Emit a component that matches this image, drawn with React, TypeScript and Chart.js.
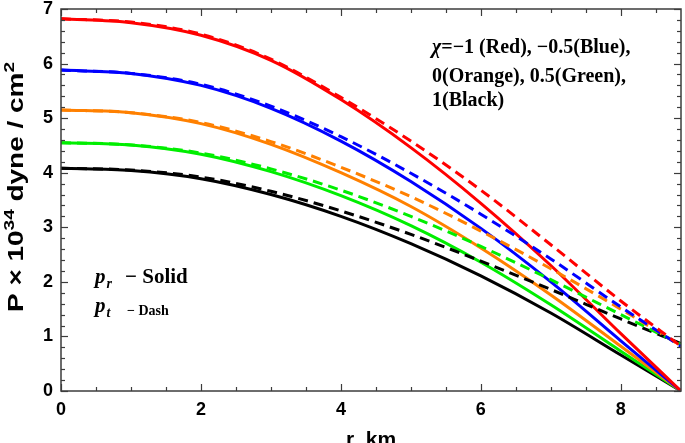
import React, { useEffect, useRef } from "react";
import { Chart, registerables } from "chart.js";

Chart.register(...registerables);

// radial coordinate r (km)
const rKm = [0, 1, 2, 3, 4, 5, 6, 7, 8, 8.86];

// radial pressure p_r (solid), units 10^34 dyne/cm^2
const prRed = [6.82, 6.75, 6.52, 6.06, 5.34, 4.46, 3.44, 2.3, 1.05, 0];
const prBlue = [5.88, 5.82, 5.6, 5.18, 4.58, 3.84, 2.98, 2.0, 0.92, 0];
const prOrange = [5.15, 5.1, 4.9, 4.52, 4.0, 3.38, 2.62, 1.76, 0.82, 0];
const prGreen = [4.55, 4.51, 4.34, 4.02, 3.58, 3.03, 2.36, 1.58, 0.73, 0];
const prBlack = [4.08, 4.04, 3.89, 3.6, 3.2, 2.7, 2.11, 1.43, 0.66, 0];

// tangential pressure p_t (dashed)
const ptRed = [6.82, 6.76, 6.54, 6.08, 5.38, 4.58, 3.68, 2.68, 1.65, 0.82];
const ptBlue = [5.88, 5.82, 5.62, 5.22, 4.66, 3.99, 3.24, 2.42, 1.54, 0.82];
const ptOrange = [5.15, 5.1, 4.92, 4.57, 4.1, 3.56, 2.93, 2.24, 1.5, 0.83];
const ptGreen = [4.55, 4.51, 4.36, 4.07, 3.68, 3.2, 2.65, 2.04, 1.4, 0.85];
const ptBlack = [4.08, 4.05, 3.92, 3.66, 3.3, 2.87, 2.38, 1.86, 1.32, 0.87];

const xTickValues = [0, 2, 4, 6, 8];
const yTickValues = [0, 1, 2, 3, 4, 5, 6, 7];

const seriesColors = ["#ff0000", "#0000ff", "#ff8000", "#00ee00", "#000000"];
const prSeries = [prRed, prBlue, prOrange, prGreen, prBlack];
const ptSeries = [ptRed, ptBlue, ptOrange, ptGreen, ptBlack];
const seriesNames = ["χ=−1", "χ=−0.5", "χ=0", "χ=0.5", "χ=1"];

const legendLines = ["=−1 (Red), −0.5(Blue),", "0(Orange), 0.5(Green),", "1(Black)"];

const SANS = '"Liberation Sans", Arial, sans-serif';
const SERIF = '"Liberation Serif", "Times New Roman", serif';

const zeroPad = (s: any) => {
  s.paddingTop = 0;
  s.paddingBottom = 0;
  s.paddingLeft = 0;
  s.paddingRight = 0;
};

const decorPlugin = {
  id: "decor",
  afterDatasetsDraw(chart: any) {
    const { ctx, chartArea: a, scales } = chart;
    const x = scales.x;
    const y = scales.y;
    ctx.save();
    // frame
    ctx.strokeStyle = "#3c3c3c";
    ctx.lineWidth = 1.5;
    ctx.strokeRect(a.left, a.top, a.right - a.left, a.bottom - a.top);
    ctx.lineWidth = 1.2;
    const seg = (x1: number, y1: number, x2: number, y2: number) => {
      ctx.beginPath();
      ctx.moveTo(x1, y1);
      ctx.lineTo(x2, y2);
      ctx.stroke();
    };
    // x ticks (major every 2, minor every 0.5)
    for (let i = 0; i * 0.5 <= x.max + 1e-9; i++) {
      const v = i * 0.5;
      const major = i % 4 === 0;
      const len = major ? 7 : 4;
      const px = Math.round(x.getPixelForValue(v)) + 0.5;
      seg(px, a.bottom, px, a.bottom - len);
      seg(px, a.top, px, a.top + len);
    }
    // y ticks (major every 1, minor every 0.2)
    for (let i = 0; i * 0.2 <= y.max + 1e-9; i++) {
      const v = i * 0.2;
      const major = i % 5 === 0;
      const len = major ? 7 : 4;
      const py = Math.round(y.getPixelForValue(v)) + 0.5;
      seg(a.left, py, a.left + len, py);
      seg(a.right, py, a.right - len, py);
    }

    ctx.fillStyle = "#000";
    ctx.textBaseline = "alphabetic";

    // y axis title with superscripts
    const parts = [
      { t: "P × 10", f: `bold 22px ${SANS}`, dy: 0 },
      { t: "34", f: `bold 15px ${SANS}`, dy: -9 },
      { t: " dyne / cm", f: `bold 22px ${SANS}`, dy: 0 },
      { t: "2", f: `bold 15px ${SANS}`, dy: -9 },
    ];
    let total = 0;
    const widths = parts.map((p) => {
      ctx.font = p.f;
      const w = ctx.measureText(p.t).width;
      total += w;
      return w;
    });
    ctx.save();
    ctx.translate(23, 187);
    ctx.rotate(-Math.PI / 2);
    ctx.scale(250 / total, 1);
    ctx.textAlign = "left";
    let cx = -total / 2;
    parts.forEach((p, i) => {
      ctx.font = p.f;
      ctx.fillText(p.t, cx, p.dy);
      cx += widths[i];
    });
    ctx.restore();

    // x axis title
    ctx.textAlign = "center";
    ctx.font = `bold 21px ${SANS}`;
    ctx.fillText("r  km", (a.left + a.right) / 2, 446);

    // legend text (top right)
    ctx.textAlign = "left";
    ctx.font = `italic bold 20px ${SERIF}`;
    ctx.fillText("χ", 432, 53);
    const chiW = ctx.measureText("χ").width;
    ctx.font = `bold 20px ${SERIF}`;
    ctx.fillText(legendLines[0], 432 + chiW, 53);
    ctx.fillText(legendLines[1], 432, 82);
    ctx.fillText(legendLines[2], 432, 106);

    // p_r - Solid
    ctx.font = `italic bold 21px ${SERIF}`;
    ctx.fillText("p", 95, 283);
    let pw = ctx.measureText("p").width;
    ctx.font = `italic bold 14px ${SERIF}`;
    ctx.fillText("r", 96 + pw, 288);
    ctx.font = `bold 21px ${SERIF}`;
    ctx.fillText("− Solid", 125, 283);

    // p_t - Dash
    ctx.font = `italic bold 21px ${SERIF}`;
    ctx.fillText("p", 95, 312);
    pw = ctx.measureText("p").width;
    ctx.font = `italic bold 14px ${SERIF}`;
    ctx.fillText("t", 96 + pw, 317);
    ctx.font = `bold 14px ${SERIF}`;
    ctx.fillText("− Dash", 127, 315);

    ctx.restore();
  },
};

export default function App() {
  const canvasRef = useRef<HTMLCanvasElement | null>(null);

  useEffect(() => {
    document.body.style.margin = "0";
    const canvas = canvasRef.current;
    if (!canvas) return;

    const datasets: any[] = [];
    ptSeries.forEach((vals, i) => {
      datasets.push({
        label: `p_t ${seriesNames[i]}`,
        data: rKm.map((r, k) => ({ x: r, y: vals[k] })),
        borderColor: seriesColors[i],
        borderWidth: 3,
        borderDash: [10, 6],
        pointRadius: 0,
        fill: false,
        cubicInterpolationMode: "monotone",
      });
    });
    prSeries.forEach((vals, i) => {
      datasets.push({
        label: `p_r ${seriesNames[i]}`,
        data: rKm.map((r, k) => ({ x: r, y: vals[k] })),
        borderColor: seriesColors[i],
        borderWidth: 3,
        pointRadius: 0,
        fill: false,
        cubicInterpolationMode: "monotone",
      });
    });

    const chart = new Chart(canvas, {
      type: "line",
      data: { datasets },
      options: {
        animation: false,
        responsive: false,
        devicePixelRatio: 1,
        layout: { padding: { top: 9, right: 4, left: 0, bottom: 0 } },
        plugins: {
          legend: { display: false },
          tooltip: { enabled: false },
        },
        scales: {
          x: {
            type: "linear",
            min: 0,
            max: 8.86,
            afterFit: (s: any) => {
              s.height = 52;
              zeroPad(s);
            },
            afterBuildTicks: (s: any) => {
              s.ticks = xTickValues.map((v) => ({ value: v }));
            },
            grid: { display: false, drawTicks: false },
            border: { display: false },
            ticks: {
              padding: 8,
              color: "#000",
              font: { family: SANS, weight: "bold", size: 18 },
              maxRotation: 0,
            },
          },
          y: {
            type: "linear",
            min: 0,
            max: 7,
            afterFit: (s: any) => {
              s.width = 61;
              zeroPad(s);
            },
            afterBuildTicks: (s: any) => {
              s.ticks = yTickValues.map((v) => ({ value: v }));
            },
            grid: { display: false, drawTicks: false },
            border: { display: false },
            ticks: {
              padding: 8,
              color: "#000",
              font: { family: SANS, weight: "bold", size: 18 },
            },
          },
        },
      },
      plugins: [decorPlugin],
    } as any);

    return () => {
      chart.destroy();
    };
  }, []);

  return (
    <div style={{ position: "absolute", left: 0, top: 0, width: 685, height: 443, background: "#fff" }}>
      <canvas ref={canvasRef} width={685} height={443} style={{ display: "block", width: 685, height: 443 }} />
    </div>
  );
}
